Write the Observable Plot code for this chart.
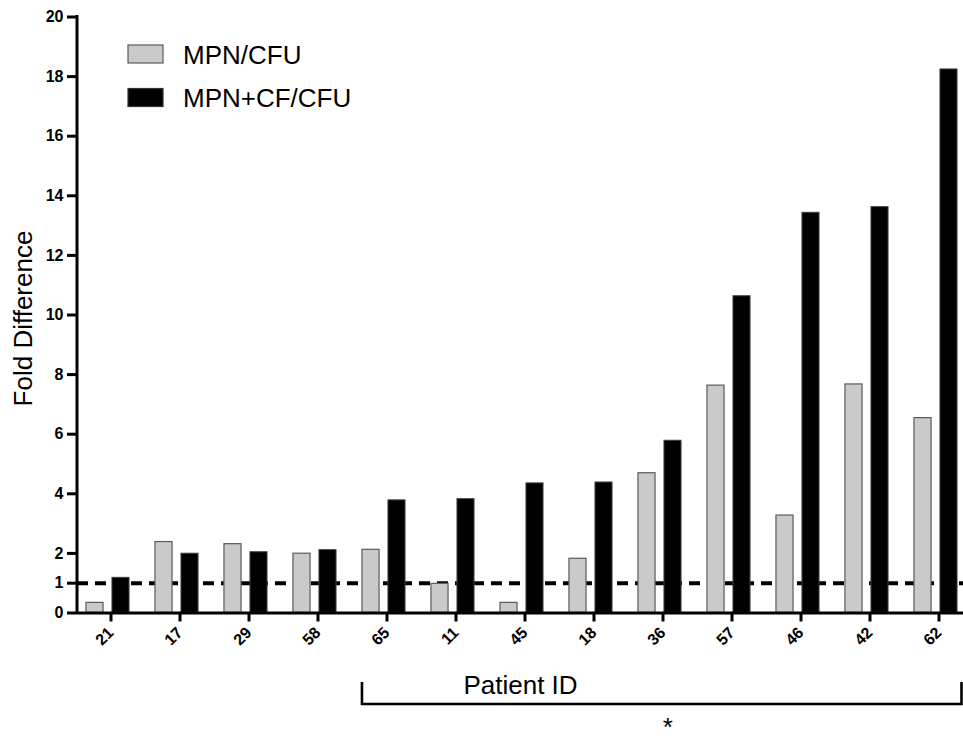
<!DOCTYPE html>
<html>
<head>
<meta charset="utf-8">
<script src="https://cdn.jsdelivr.net/npm/d3@7"></script>
<script src="https://cdn.jsdelivr.net/npm/@observablehq/plot@0.6"></script>
<style>
  html, body { margin: 0; padding: 0; background: white; overflow: hidden; }
  #chart svg { display: block; }
</style>
</head>
<body>
<div id="chart"></div>
<script>
// ---- data ----
const patients = ["21", "17", "29", "58", "65", "11", "45", "18", "36", "57", "46", "42", "62"];
const mpnCfu   = [0.34, 2.38, 2.31, 1.99, 2.12, 0.98, 0.34, 1.82, 4.69, 7.63, 3.27, 7.67, 6.54];
const mpnCfCfu = [1.18, 1.99, 2.04, 2.11, 3.78, 3.82, 4.35, 4.38, 5.78, 10.63, 13.43, 13.62, 18.24];
const seriesNames = ["MPN/CFU", "MPN+CF/CFU"];
const seriesColors = ["#cacaca", "#000000"];
const yTicks = [0, 1, 2, 4, 6, 8, 10, 12, 14, 16, 18, 20];
const referenceLevel = 1;
const yTitle = "Fold Difference";
const xTitle = "Patient ID";
const bracketStart = "65";
const bracketMark = "*";

// ---- layout ----
const W = 963, H = 741;
const mLeft = 77, mTop = 16.5, mBottom = 128.5;
const font = "'Liberation Sans', Arial, Helvetica, sans-serif";
const step = 69.12;
const xRange = [72.7, 72.7 + step * patients.length];
const innerGap = 4.4, barW = 17.2;
const outer = step / 2 - innerGap - barW;

const rows = patients.map((p, i) => ({patient: p, a: mpnCfu[i], b: mpnCfCfu[i]}));

const plot = Plot.plot({
  width: W, height: H,
  marginLeft: mLeft, marginTop: mTop, marginBottom: mBottom, marginRight: 0,
  style: {fontFamily: font, background: "white"},
  x: {domain: patients, range: xRange, padding: 0, label: null},
  y: {domain: [0, 20], label: null},
  color: {domain: seriesNames, range: seriesColors},
  marks: [
    Plot.ruleY([referenceLevel], {stroke: "black", strokeWidth: 4, strokeDasharray: "11,7"}),
    Plot.barY(rows, {x: "patient", y: "a", fill: () => seriesNames[0], stroke: "#5a5a5a", strokeWidth: 1.2,
      insetLeft: outer, insetRight: step - outer - barW}),
    Plot.barY(rows, {x: "patient", y: "b", fill: () => seriesNames[1], stroke: "#444", strokeWidth: 1,
      insetLeft: step - outer - barW, insetRight: outer}),
    Plot.ruleY([0], {stroke: "black", strokeWidth: 3}),
    Plot.axisY({ticks: yTicks, tickSize: 10, tickPadding: 4, strokeWidth: 3, fontSize: 16, fontWeight: "bold", fill: "black", label: null}),
    Plot.axisX({tickRotate: -45, tickSize: 9, tickPadding: 8, strokeWidth: 3, fontSize: 16, fontWeight: "bold", fill: "black", label: null, dx: 3}),
    Plot.text([yTitle], {frameAnchor: "left", textAnchor: "middle", rotate: -90, dx: -54, dy: 3.5, fontSize: 26, fill: "black"}),
    Plot.text([xTitle], {frameAnchor: "bottom", lineAnchor: "bottom", dy: 80.5, fontSize: 26, fill: "black"})
  ]
});

document.getElementById("chart").appendChild(plot);

// force tick label font
d3.select(plot).selectAll('g[aria-label$="tick label"], g[aria-label$="tick label"] text')
  .style("font-size", "16px").style("font-weight", "bold").style("fill", "black");

// ---- overlays derived from the plot's scales ----
const sx = plot.scale("x"), sy = plot.scale("y"), sc = plot.scale("color");
const svg = d3.select(plot);
const y0 = sy.apply(0), yTop = sy.apply(20);

// y axis line
svg.append("line")
  .attr("x1", mLeft).attr("x2", mLeft)
  .attr("y1", yTop - 1.5).attr("y2", y0 + 1.5)
  .attr("stroke", "black").attr("stroke-width", 3);

// bracket under the x axis
const bx1 = sx.apply(bracketStart) + outer;
const bx2 = W - 1.5;
const bBottom = y0 + 91.5, bTop = y0 + 69.5;
svg.append("path")
  .attr("d", `M${bx1},${bTop}V${bBottom}H${bx2}V${bTop}`)
  .attr("fill", "none").attr("stroke", "black").attr("stroke-width", 2.6);
svg.append("text")
  .attr("x", (bx1 + bx2) / 2 + 6).attr("y", H - 5)
  .attr("text-anchor", "middle").attr("font-family", font).attr("font-size", 26)
  .text(bracketMark);

// legend
const lg = svg.append("g");
seriesNames.forEach((name, i) => {
  const yy = 45 + i * 43.5;
  lg.append("rect").attr("x", 128).attr("y", yy).attr("width", 35).attr("height", 18)
    .attr("fill", sc.apply(name)).attr("stroke", i === 0 ? "#5a5a5a" : "#333").attr("stroke-width", 1.2);
  lg.append("text").attr("x", 183).attr("y", yy + 18.5).attr("text-anchor", "start")
    .attr("font-family", font).attr("font-size", 26).attr("fill", "black").text(name);
});
</script>
</body>
</html>
